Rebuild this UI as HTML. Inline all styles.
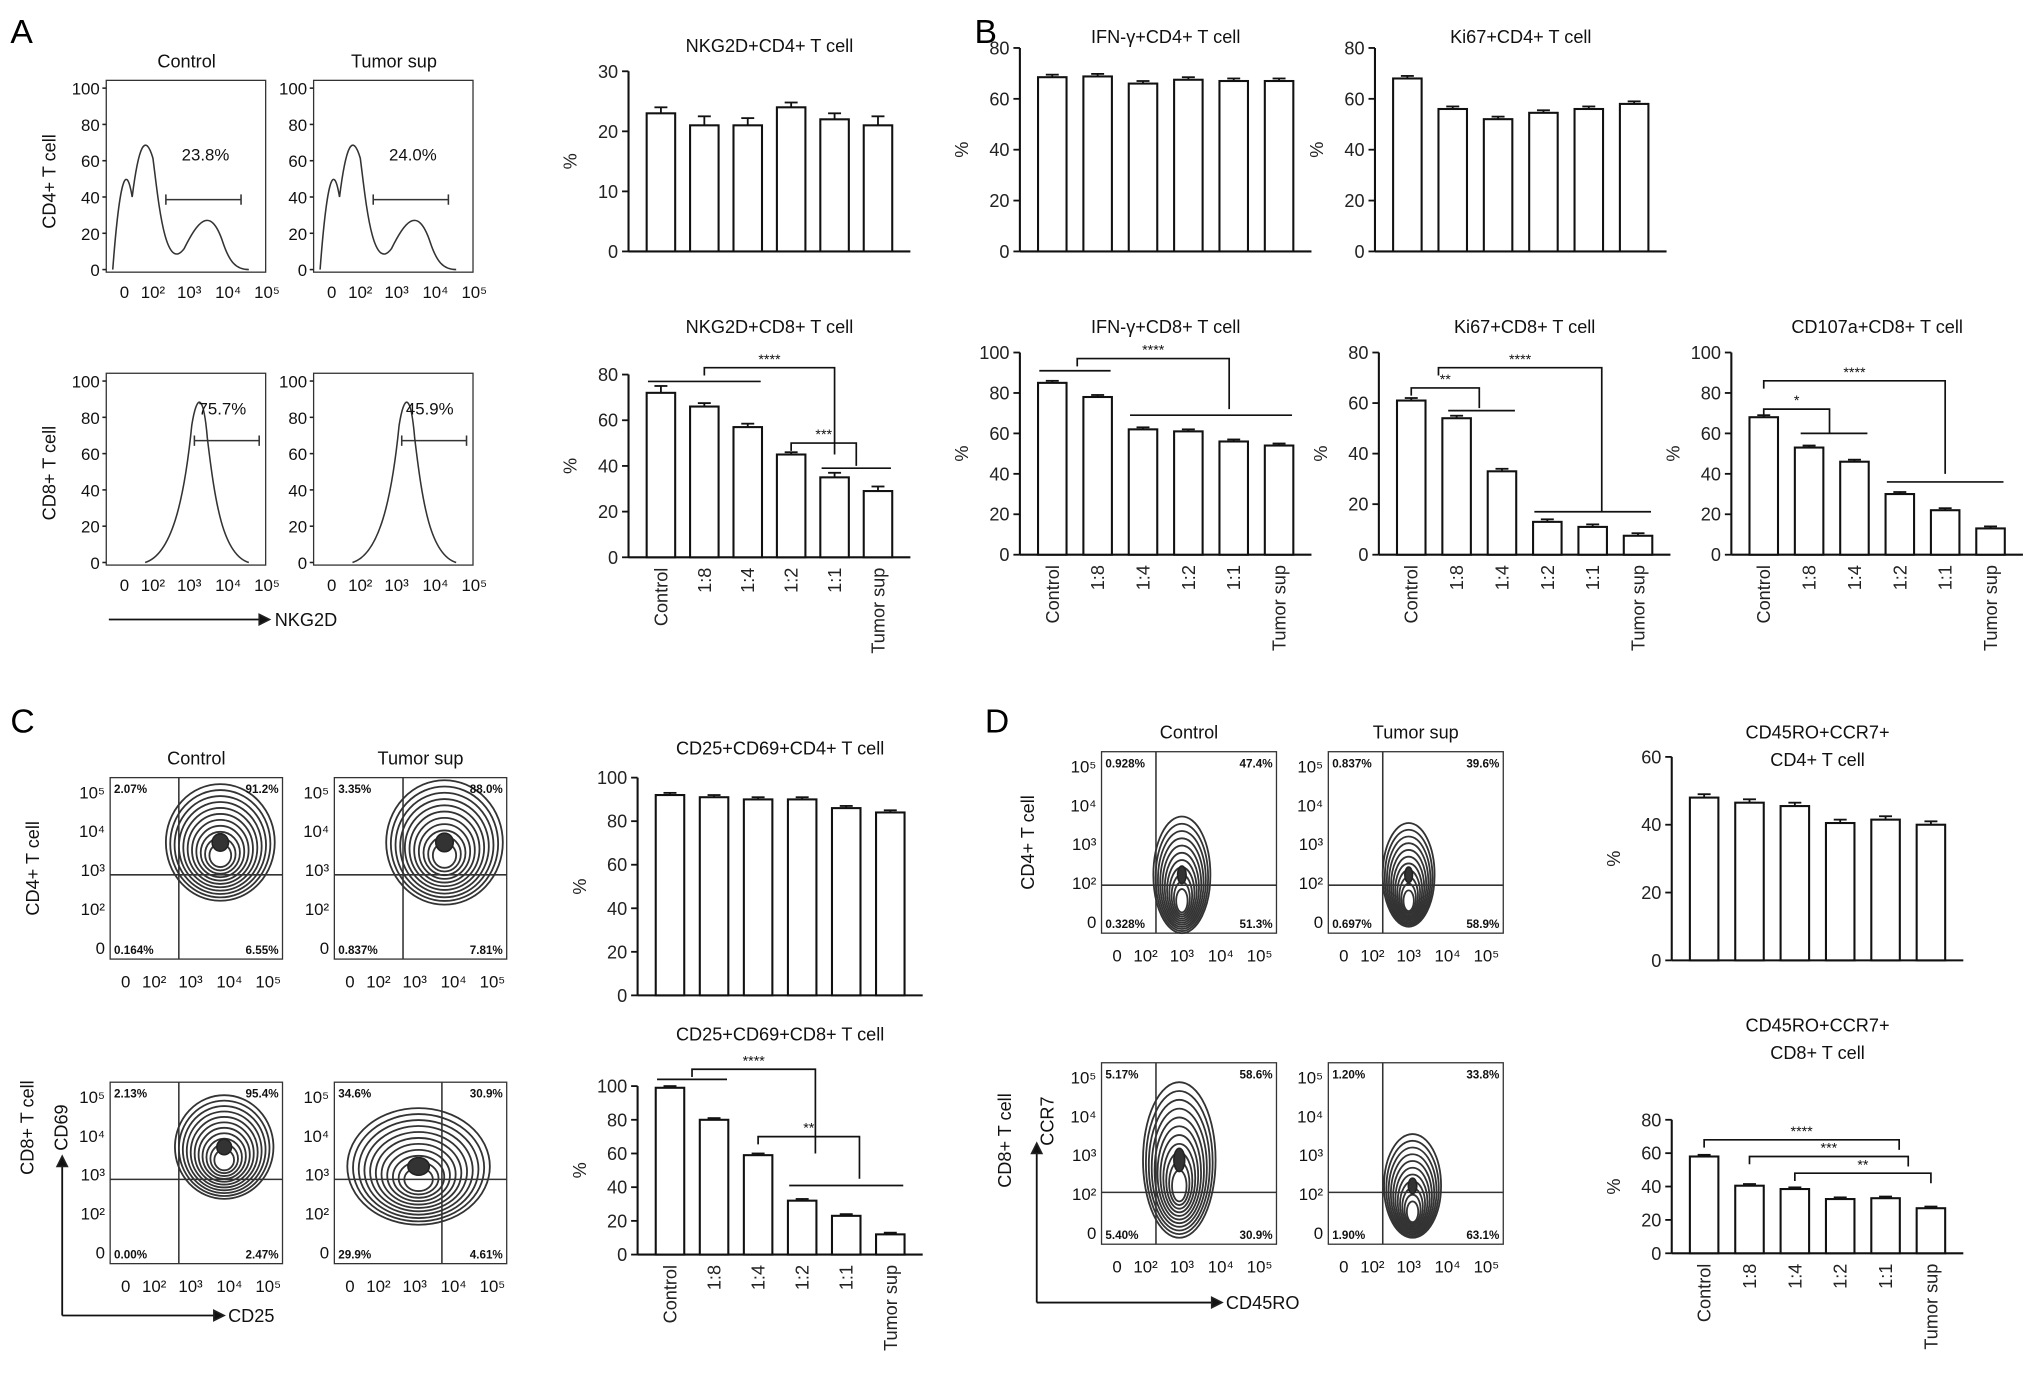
<!DOCTYPE html>
<html><head><meta charset="utf-8"><style>
html,body{margin:0;padding:0;background:#fff;}
svg{display:block;font-family:"Liberation Sans",Arial,sans-serif;}
</style></head><body>
<svg id="fig" width="2032" height="1379" viewBox="0 0 1568 1064" preserveAspectRatio="none" xmlns="http://www.w3.org/2000/svg">
<g id="static" fill="none" stroke="#222" stroke-width="1.2">
<text x="8" y="33" font-size="26" fill="#000" stroke="none">A</text>
<text x="752" y="33" font-size="26" fill="#000" stroke="none">B</text>
<text x="8" y="565" font-size="26" fill="#000" stroke="none">C</text>
<text x="760" y="565" font-size="26" fill="#000" stroke="none">D</text>
</g>
<g id="charts"></g>
</svg>
<script>
// ---- chart data ----
const categories = ["Control","1:8","1:4","1:2","1:1","Tumor sup"];
const nkg2dCd4 = [23,21,21,24,22,21];
const nkg2dCd8 = [72,66,57,45,35,29];
const ifnCd4 = [68.5,68.8,66,67.5,67,67];
const ki67Cd4 = [68,56,52,54.5,56,58];
const ifnCd8 = [85,78,62,61,56,54];
const ki67Cd8 = [61,54,33,13,11,7.5];
const cd107aCd8 = [68,53,46,30,22,13];
const cd25Cd4 = [92,91,90,90,86,84];
const cd25Cd8 = [99,80,59,32,23,12];
const ccr7Cd4 = [48,46.5,45.5,40.5,41.5,40];
const ccr7Cd8 = [58,40.5,38.5,32.5,33,27];
const errNkg2dCd4 = [1,1.5,1.2,0.8,1,1.5];
const errNkg2dCd8 = [3,1.5,1.5,1,2,2];
const ticks30 = [0,10,20,30];
const ticks60 = [0,20,40,60];
const ticks80 = [0,20,40,60,80];
const ticks100 = [0,20,40,60,80,100];

const NS="http://www.w3.org/2000/svg";
const root=document.getElementById('charts');
const stat=document.getElementById('static');
function mk(tag,attrs,parent){const e=document.createElementNS(NS,tag);for(const k in attrs)e.setAttribute(k,attrs[k]);(parent||root).appendChild(e);return e;}

function chart(name,title,title2,ty,ax,sp,y0,y1,vmax,ticks,vals,showCats,errs){
  const g=mk('g',{});
  
  
  const yS=v=>y0-(v/vmax)*(y0-y1);
  const xS=i=>ax+25+i*sp;
  const right=ax+50+5*sp;
  const t=mk('text',{x:ax+25+2.5*sp,y:ty,'font-size':14,'text-anchor':'middle',fill:'#111'},g);
  t.textContent=title;
  
  
  if(title2){const t2=mk('text',{x:ax+25+2.5*sp,y:ty+21,'font-size':14,'text-anchor':'middle',fill:'#111'},g);t2.textContent=title2;
    
    }
  mk('line',{x1:ax,y1:y1,x2:ax,y2:y0,stroke:'#111','stroke-width':1.6},g);
  mk('line',{x1:ax,y1:y0,x2:right,y2:y0,stroke:'#111','stroke-width':1.6},g);
  ticks.forEach(tv=>{
    const y=yS(tv);
    mk('line',{x1:ax-5,y1:y,x2:ax,y2:y,stroke:'#111','stroke-width':1.4},g);
    const tl=mk('text',{x:ax-8,y:y+5,'font-size':14,'text-anchor':'end',fill:'#222'},g);
    tl.textContent=tv;
    
    
  });
  const yl=mk('text',{x:0,y:0,'font-size':14,'text-anchor':'middle',fill:'#222',transform:`translate(${ax-40},${(y0+y1)/2}) rotate(-90)`},g);
  yl.textContent='%';
  
  
  vals.forEach((v,i)=>{
    const cx=xS(i),w=22;
    const b=mk('rect',{x:cx-w/2,y:yS(v),width:w,height:y0-yS(v),fill:'#fff',stroke:'#111','stroke-width':1.6},g);
    
    
    const e=errs?errs[i]:1;
    mk('line',{x1:cx,y1:yS(v),x2:cx,y2:yS(v+e),stroke:'#111','stroke-width':1.4},g);
    mk('line',{x1:cx-5,y1:yS(v+e),x2:cx+5,y2:yS(v+e),stroke:'#111','stroke-width':1.4},g);
    if(showCats){
      const c=mk('text',{x:0,y:0,'font-size':14,'text-anchor':'end',fill:'#222',transform:`translate(${cx+5},${y0+8}) rotate(-90)`},g);
      c.textContent=categories[i];
      
      
    }
  });
  return {g,xS,yS};
}
function bracket(c,i1,i2,y,yEnd,label){
  const y1=c.yS(y);
  mk('path',{d:`M${c.xS(i1)} ${y1+6} V${y1} H${c.xS(i2)} V${c.yS(yEnd)}`,fill:'none',stroke:'#111','stroke-width':1.3},c.g);
  if(label){const t=mk('text',{x:(c.xS(i1)+c.xS(i2))/2,y:y1-3,'font-size':11,'text-anchor':'middle',fill:'#111'},c.g);t.textContent=label;}
}
function hline(c,i1,i2,y){const yy=c.yS(y);mk('line',{x1:c.xS(i1)-10,y1:yy,x2:c.xS(i2)+10,y2:yy,stroke:'#111','stroke-width':1.3},c.g);}

chart('nkg2d-cd4-chart','NKG2D+CD4+ T cell',null,40,485,33.5,194,55,30,ticks30,nkg2dCd4,false,errNkg2dCd4);
let c2=chart('nkg2d-cd8-chart','NKG2D+CD8+ T cell',null,257,485,33.5,430,289,80,ticks80,nkg2dCd8,true,errNkg2dCd8);
hline(c2,0,2,77);bracket(c2,1,4,83,45,'****');hline(c2,4,5,39);bracket(c2,3,4.5,50,40,'***');
chart('ifn-cd4-chart','IFN-γ+CD4+ T cell',null,33,787,35,194,37,80,ticks80,ifnCd4,false);
chart('ki67-cd4-chart','Ki67+CD4+ T cell',null,33,1061,35,194,37,80,ticks80,ki67Cd4,false);
let c5=chart('ifn-cd8-chart','IFN-γ+CD8+ T cell',null,257,787,35,428,272,100,ticks100,ifnCd8,true);
hline(c5,0,1,91);bracket(c5,0.55,3.9,97,72,'****');hline(c5,2,5,69);
let c6=chart('ki67-cd8-chart','Ki67+CD8+ T cell',null,257,1064,35,428,272,80,ticks80,ki67Cd8,true);
bracket(c6,0,1.5,66,58,'**');hline(c6,1.1,2,57);bracket(c6,0.6,4.2,74,17,'****');hline(c6,3,5,17);
let c7=chart('cd107a-cd8-chart','CD107a+CD8+ T cell',null,257,1336,35,428,272,100,ticks100,cd107aCd8,true);
bracket(c7,0,1.45,72,60,'*');hline(c7,1.1,2,60);bracket(c7,0,4,86,40,'****');hline(c7,3,5,36);
chart('cd25-cd69-cd4-chart','CD25+CD69+CD4+ T cell',null,582,492,34,768,600,100,ticks100,cd25Cd4,false);
let c9=chart('cd25-cd69-cd8-chart','CD25+CD69+CD8+ T cell',null,803,492,34,968,838,100,ticks100,cd25Cd8,true);
hline(c9,0,1,104);bracket(c9,0.5,3.3,110,60,'****');bracket(c9,2,4.3,70,45,'**');hline(c9,3,5,41);
chart('cd45ro-ccr7-cd4-chart','CD45RO+CCR7+','CD4+ T cell',570,1290,35,741,584,60,ticks60,ccr7Cd4,false);
let c11=chart('cd45ro-ccr7-cd8-chart','CD45RO+CCR7+','CD8+ T cell',796,1290,35,967,864,80,ticks80,ccr7Cd8,true);
bracket(c11,0,4.3,68,62,'****');bracket(c11,1,4.5,58,52,'***');bracket(c11,2,5,48,42,'**');
// ---- flow plots ----
function box(name,x,y,w,h){const r=mk('rect',{x,y,width:w,height:h,fill:'none',stroke:'#333','stroke-width':1},stat);}
function txt(s,x,y,size,anchor,rot,bold){const t=mk('text',{x,y,'font-size':size,'text-anchor':anchor||'start',fill:'#111',stroke:'none','font-weight':bold?'bold':'normal'},stat);if(rot)t.setAttribute('transform',`rotate(-90 ${x} ${y})`);t.textContent=s;return t;}
function xlog(x0,y){['0','10²','10³','10⁴','10⁵'].forEach((s,i)=>txt(s,x0+[0,22,50,80,110][i],y,13,'middle'));}
// histograms
[[82,62,'Control','23.8%',0],[242,62,'Tumor sup','24.0%',0],[82,288,'','75.7%',1],[242,288,'','45.9%',1]].forEach(([x,y,ttl,pct,k],j)=>{
  box('histogram-box',x,y,123,148);
  if(ttl)txt(ttl,x+62,y-10,14,'middle');
  [0,20,40,60,80,100].forEach(v=>{const yy=y+146-v*1.4;txt(String(v),x-5,yy+5,13,'end');mk('line',{x1:x-3,y1:yy,x2:x,y2:yy},stat);});
  xlog(x+14,y+168);
  let d;
  if(k===0) d=`M${x+5} ${y+146} C${x+10} ${y+80} ${x+15} ${y+60} ${x+20} ${y+90} C${x+25} ${y+50} ${x+30} ${y+40} ${x+36} ${y+60} C${x+40} ${y+90} ${x+45} ${y+150} ${x+60} ${y+130} C${x+70} ${y+110} ${x+80} ${y+95} ${x+90} ${y+125} C${x+95} ${y+140} ${x+100} ${y+146} ${x+110} ${y+146}`;
  else d=`M${x+30} ${y+146} C${x+50} ${y+140} ${x+60} ${y+100} ${x+66} ${y+40} C${x+70} ${y+15} ${x+75} ${y+15} ${x+78} ${y+50} C${x+84} ${y+100} ${x+90} ${y+140} ${x+110} ${y+146}`;
  mk('path',{d,fill:'none',stroke:'#333','stroke-width':1.2},stat);
  const gy=k?y+52:y+92;const gx=k?x+68:x+46;const gx2=x+k*14+104;
  mk('line',{x1:gx,y1:gy,x2:gx2,y2:gy,stroke:'#333'},stat);
  mk('line',{x1:gx,y1:gy-4,x2:gx,y2:gy+4,stroke:'#333'},stat);
  mk('line',{x1:gx2,y1:gy-4,x2:gx2,y2:gy+4,stroke:'#333'},stat);
  txt(pct,x+(k?108:95),gy-(k?20:30),13,'end');
});
txt('CD4+ T cell',43,140,14,'middle',true);txt('CD8+ T cell',43,365,14,'middle',true);
mk('line',{x1:84,y1:478,x2:200,y2:478,stroke:'#111','stroke-width':1.4},stat);
mk('path',{d:'M200 474 L208 478 L200 482Z',fill:'#111'},stat);txt('NKG2D',212,483,14);
// contour plots
function contour(x,y,w,h,ttl,q,cx,cy,rx,ry,vx,hy,tall){
  box('contour-plot',x,y,w,h);
  if(ttl)txt(ttl,x+w/2,y-10,14,'middle');
  mk('line',{x1:x+vx,y1:y,x2:x+vx,y2:y+h,stroke:'#333'},stat);
  mk('line',{x1:x,y1:y+hy,x2:x+w,y2:y+hy,stroke:'#333'},stat);
  for(let i=0;i<11;i++){const f=1-i*0.08;mk('ellipse',{cx:x+cx,cy:y+cy+i*(tall?2:1),rx:rx*f,ry:ry*f,fill:'none',stroke:'#333','stroke-width':1.4},stat);}
  mk('ellipse',{cx:x+cx,cy:y+cy,rx:rx*0.15,ry:ry*0.15,fill:'#333'},stat);
  txt(q[0],x+3,y+12,9,'start',false,true);txt(q[1],x+w-3,y+12,9,'end',false,true);
  txt(q[2],x+3,y+h-4,9,'start',false,true);txt(q[3],x+w-3,y+h-4,9,'end',false,true);
  ['10⁵','10⁴','10³','10²','0'].forEach((s,i)=>txt(s,x-4,y+12+i*(h-20)/4+4,13,'end'));
  xlog(x+12,y+h+22);
}
contour(85,600,133,140,'Control',['2.07%','91.2%','0.164%','6.55%'],85,50,42,45,53,75);
contour(258,600,133,140,'Tumor sup',['3.35%','88.0%','0.837%','7.81%'],85,50,45,48,53,75);
contour(85,835,133,140,'',['2.13%','95.4%','0.00%','2.47%'],88,50,38,40,53,75);
contour(258,835,133,140,'',['34.6%','30.9%','29.9%','4.61%'],65,65,55,45,83,75);
txt('CD4+ T cell',30,670,14,'middle',true);txt('CD8+ T cell',26,870,14,'middle',true);
mk('line',{x1:48,y1:1015,x2:48,y2:900,stroke:'#111','stroke-width':1.4},stat);
mk('path',{d:'M44 900 L48 892 L52 900Z',fill:'#111'},stat);txt('CD69',52,870,14,'middle',true);
mk('line',{x1:48,y1:1015,x2:165,y2:1015,stroke:'#111','stroke-width':1.4},stat);
mk('path',{d:'M165 1011 L173 1015 L165 1019Z',fill:'#111'},stat);txt('CD25',176,1020,14);
contour(850,580,135,140,'Control',['0.928%','47.4%','0.328%','51.3%'],62,95,22,45,42,103,true);
contour(1025,580,135,140,'Tumor sup',['0.837%','39.6%','0.697%','58.9%'],62,95,20,40,42,103,true);
contour(850,820,135,140,'',['5.17%','58.6%','5.40%','30.9%'],60,75,28,60,42,100,true);
contour(1025,820,135,140,'',['1.20%','33.8%','1.90%','63.1%'],65,95,22,40,42,100,true);
txt('CD4+ T cell',798,650,14,'middle',true);txt('CD8+ T cell',780,880,14,'middle',true);
mk('line',{x1:800,y1:1005,x2:800,y2:890,stroke:'#111','stroke-width':1.4},stat);
mk('path',{d:'M796 890 L800 882 L804 890Z',fill:'#111'},stat);txt('CCR7',813,865,14,'middle',true);
mk('line',{x1:800,y1:1005,x2:935,y2:1005,stroke:'#111','stroke-width':1.4},stat);
mk('path',{d:'M935 1001 L943 1005 L935 1009Z',fill:'#111'},stat);txt('CD45RO',946,1010,14);
</script>
</body></html>
